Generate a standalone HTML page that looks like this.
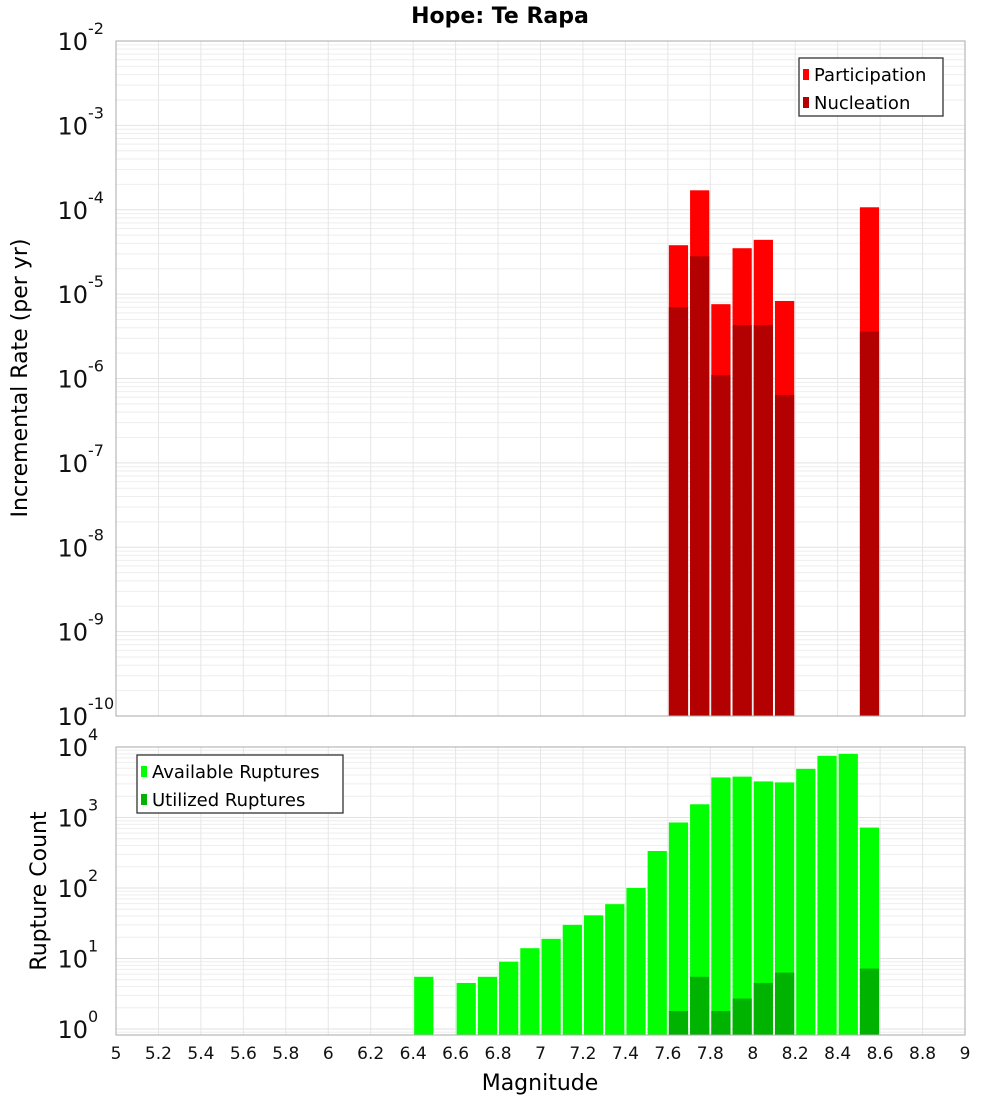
<!DOCTYPE html>
<html><head><meta charset="utf-8"><style>
body{margin:0;background:#fff;width:1000px;height:1100px;overflow:hidden}
svg{font-family:"DejaVu Sans","Liberation Sans",sans-serif}
</style></head><body>
<svg id="c" width="1000" height="1100"></svg>
<script>
const mags=[7.65,7.75,7.85,7.95,8.05,8.15,8.55];
const participation=[3.8e-5,1.7e-4,7.6e-6,3.5e-5,4.4e-5,8.3e-6,1.07e-4];
const nucleation=[7e-6,2.8e-5,1.1e-6,4.3e-6,4.3e-6,6.4e-7,3.6e-6];
const rupMags=[6.45,6.65,6.75,6.85,6.95,7.05,7.15,7.25,7.35,7.45,7.55,7.65,7.75,7.85,7.95,8.05,8.15,8.25,8.35,8.45,8.55];
const available=[5.5,4.5,5.5,9,14,19,30,41,59,100,335,850,1540,3700,3800,3250,3150,4900,7500,8000,720];
const utilMags=[7.65,7.75,7.85,7.95,8.05,8.15,8.55];
const utilized=[1.8,5.5,1.8,2.7,4.5,6.3,7.2];
const xTicks=[5,5.2,5.4,5.6,5.8,6,6.2,6.4,6.6,6.8,7,7.2,7.4,7.6,7.8,8,8.2,8.4,8.6,8.8,9];
const topExp=[-2,-3,-4,-5,-6,-7,-8,-9,-10];
const botExp=[0,1,2,3,4];

const NS="http://www.w3.org/2000/svg",svg=document.getElementById('c');
function el(t,a,p){const e=document.createElementNS(NS,t);for(const k in a)e.setAttribute(k,a[k]);(p||svg).appendChild(e);return e;}
const X0=116,X1=965;
const x=m=>X0+(m-5)/4*(X1-X0);
const T0=41,T1=716;
const yT=v=>T0+(-2-Math.log10(v))/8*(T1-T0);
const B0=747,B1=1035,BZ=1029;
const yB=v=>BZ-Math.log10(v)*(BZ-B0)/4;

function grid(y0,y1,yfn,eMin,eMax){
  const g=el('g',{});
  
  
  for(let e=eMin;e<=eMax;e++)for(let k=1;k<10;k++){const v=k*Math.pow(10,e);const yy=yfn(v);if(yy<y0-0.5||yy>y1+0.5)continue;
    el('line',{x1:X0,x2:X1,y1:yy,y2:yy,stroke:k==1?'#e2e2e2':'#eeeeee','stroke-width':1},g);}
  xTicks.forEach(t=>el('line',{x1:x(t),x2:x(t),y1:y0,y2:y1,stroke:'#e6e6e6'},g));
}
grid(T0,T1,yT,-11,-2);
grid(B0,B1,yB,-1,4);

// top bars
mags.forEach((m,i)=>{
  const r=el('rect',{x:x(m-0.05)+1,width:x(m+0.05)-x(m-0.05)-2,y:yT(participation[i]),height:T1-yT(participation[i]),fill:'#ff0000'});
  
  
  const n=el('rect',{x:x(m-0.05)+1,width:x(m+0.05)-x(m-0.05)-2,y:yT(nucleation[i]),height:T1-yT(nucleation[i]),fill:'#b30000'});
  
  
});
rupMags.forEach((m,i)=>{
  const r=el('rect',{x:x(m-0.05)+1,width:x(m+0.05)-x(m-0.05)-2,y:yB(available[i]),height:B1-yB(available[i]),fill:'#00ff00'});
  
  
});
utilMags.forEach((m,i)=>{
  const r=el('rect',{x:x(m-0.05)+1,width:x(m+0.05)-x(m-0.05)-2,y:yB(utilized[i]),height:B1-yB(utilized[i]),fill:'#00b300'});
  
  
});
el('rect',{x:X0,y:T0,width:X1-X0,height:T1-T0,fill:'none',stroke:'#aaa'});
el('rect',{x:X0,y:B0,width:X1-X0,height:B1-B0,fill:'none',stroke:'#aaa'});

function pow(xr,yy,e,name){
  const t=el('text',{x:xr-12,y:yy+9,'font-size':24,'text-anchor':'end',fill:'#111'});
  t.textContent='10';
  
  
  const s=el('text',{x:xr-12,y:yy-7,'font-size':16,fill:'#111'});
  s.textContent=String(e);
}
topExp.forEach(e=>pow(100,yT(Math.pow(10,e)),e,'y-tick-label'));
botExp.forEach(e=>pow(100,yB(Math.pow(10,e)),e,'y-tick-label'));
xTicks.forEach(t=>{const tx=el('text',{x:x(t),y:1059,'font-size':17,'text-anchor':'middle',fill:'#111'});tx.textContent=String(t);
  
  });

function txt(s,a,name){const t=el('text',a);t.textContent=s;
  
  return t;}
txt('Hope: Te Rapa',{x:500,y:23,'font-size':22,'font-weight':'bold','text-anchor':'middle'},'chart-title');
txt('Magnitude',{x:540,y:1090,'font-size':22,'text-anchor':'middle'},'x-axis-title');
txt('Incremental Rate (per yr)',{x:27,y:378,'font-size':22,'text-anchor':'middle',transform:'rotate(-90 27 378)'},'y-axis-title-top');
txt('Rupture Count',{x:46,y:891,'font-size':22,'text-anchor':'middle',transform:'rotate(-90 46 891)'},'y-axis-title-bottom');

// legends
function legend(lx,ly,w,items,name){
  const g=el('g',{});
  
  
  el('rect',{x:lx,y:ly,width:w,height:58,fill:'#fff',stroke:'#333','stroke-width':1.3},g);
  items.forEach((it,i)=>{el('rect',{x:lx+4,y:ly+11+i*28,width:6,height:11,fill:it[1]},g);
    const t=el('text',{x:lx+15,y:ly+23+i*28,'font-size':18},g);t.textContent=it[0];});
}
legend(799,58,144,[['Participation','#ff0000'],['Nucleation','#b30000']],'legend-top');
legend(137,755,206,[['Available Ruptures','#00ff00'],['Utilized Ruptures','#00b300']],'legend-bottom');
</script>
</body></html>
